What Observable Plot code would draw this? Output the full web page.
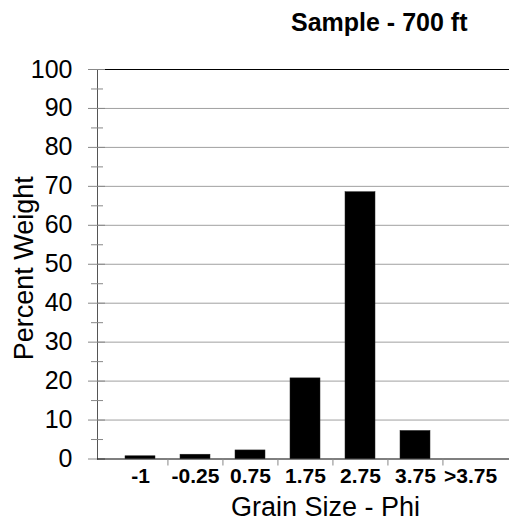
<!DOCTYPE html>
<html>
<head>
<meta charset="utf-8">
<script src="https://cdn.jsdelivr.net/npm/d3@7"></script>
<script src="https://cdn.jsdelivr.net/npm/@observablehq/plot@0.6"></script>
<style>
  body { margin: 0; background: #fff; font-family: "Liberation Sans", Arial, sans-serif; }
  #title { height: 40px; line-height: 40px; padding-left: 291px; font-size: 25px; font-weight: bold; color: #000; padding-top: 2px; box-sizing: border-box; }
  #chart svg { display: block; }
</style>
</head>
<body>
<div id="title">Sample - 700 ft</div>
<div id="chart"></div>
<script>
const categories = ["-1", "-0.25", "0.75", "1.75", "2.75", "3.75", ">3.75"];
const percentWeight = [0.7, 1.1, 2.2, 20.7, 68.5, 7.2, 0];
const yMajorTicks = [0, 10, 20, 30, 40, 50, 60, 70, 80, 90, 100];
const yMinorTicks = [5, 15, 25, 35, 45, 55, 65, 75, 85, 95];
const xTitle = "Grain Size - Phi";
const yTitle = "Percent Weight";

const data = categories.map((c, i) => ({cat: c, value: percentWeight[i]}));

const W = 509, H = 483;
const mL = 97, mR = 0, insL = 15, insR = 11;
const step = (W - mL - mR - insL - insR) / categories.length;

const plot = Plot.plot({
  width: W,
  height: H,
  marginLeft: mL,
  marginRight: mR,
  marginTop: 29,
  marginBottom: 64.5,
  style: {fontFamily: "'Liberation Sans', Arial, sans-serif", background: "#fff", color: "#000"},
  x: {type: "band", domain: categories, insetLeft: insL, insetRight: insR, paddingInner: 0.45, paddingOuter: 0.225, label: null},
  y: {domain: [0, 100], label: null},
  marks: [
    Plot.gridY(yMajorTicks.filter(d => d > 0 && d < 100), {stroke: "#a0a0a0", strokeOpacity: 1, strokeWidth: 1}),
    Plot.ruleY([100], {stroke: "#000", strokeWidth: 1.2}),
    Plot.barY(data, {x: "cat", y: "value", fill: "#000", stroke: "#222", strokeWidth: 0.5}),
    // y axis line
    Plot.frame({anchor: "left", stroke: "#555"}),
    // major ticks crossing the axis
    Plot.axisY(yMajorTicks, {tickSize: 17, dx: 8, text: null, label: null, stroke: "#888"}),
    // minor ticks
    Plot.axisY(yMinorTicks, {tickSize: 12, dx: 6, text: null, label: null, stroke: "#888"}),
    // labels
    Plot.axisY(yMajorTicks, {tickSize: 0, tickPadding: 25, fontSize: 25, label: null, tickFormat: d => d, stroke: null}),
    // x axis line
    Plot.ruleY([0], {stroke: "#000", strokeWidth: 1.2}),
    // category boundary ticks
    Plot.axisX(categories.slice(1), {tickSize: 7, dx: -step / 2, text: null, label: null, stroke: "#888"}),
    Plot.axisX(categories, {tickSize: 0, tickPadding: 9, fontSize: 21, fontWeight: "bold", label: null}),
    Plot.text([xTitle], {frameAnchor: "bottom", dy: 56.5, dx: 22, fontSize: 27, fill: "#000"}),
    Plot.text([yTitle], {frameAnchor: "left", textAnchor: "middle", rotate: -90, dx: -73, dy: 4, fontSize: 27, fill: "#000"})
  ]
});
document.getElementById("chart").appendChild(plot);
</script>
</body>
</html>
